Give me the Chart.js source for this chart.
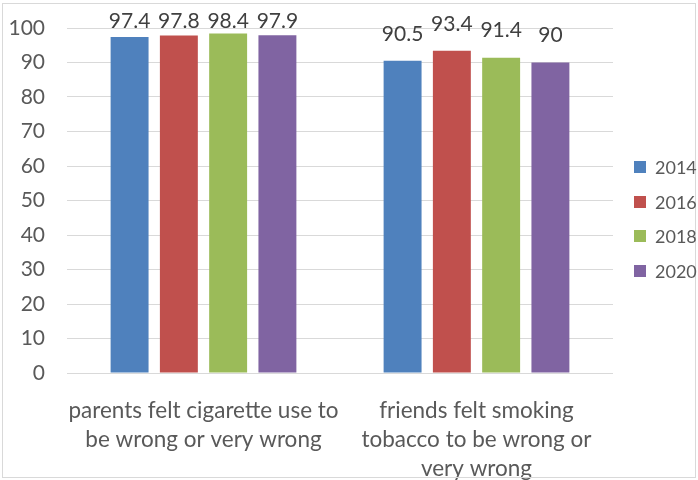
<!DOCTYPE html>
<html>
<head>
<meta charset="utf-8">
<script src="https://cdn.jsdelivr.net/npm/chart.js@4.4.1/dist/chart.umd.min.js"></script>
<style>
  html, body { margin: 0; padding: 0; background: #fff; }
  #wrap { position: relative; width: 698px; height: 480px; }
</style>
</head>
<body>
<div id="wrap"><canvas id="c" width="698" height="480"></canvas></div>
<script>
// 数据：两组问题 × 四个年份
var categories = [
  ["parents felt cigarette use to", "be wrong or very wrong"],
  ["friends felt smoking", "tobacco to be wrong or", "very wrong"]
];
var years = ["2014", "2016", "2018", "2020"];
var values2014 = [97.4, 90.5];
var values2016 = [97.8, 93.4];
var values2018 = [98.4, 91.4];
var values2020 = [97.9, 90];
var yTicks = [0, 10, 20, 30, 40, 50, 60, 70, 80, 90, 100];

var COLORS = ["#4F81BD", "#C0504D", "#9BBB59", "#8064A2"];
var TEXT = "#595959";
var GRID = "#D9D9D9";
var FONT = "Lato, 'Open Sans', sans-serif";

var series = [values2014, values2016, values2018, values2020];
var datasets = series.map(function (vals, i) {
  return {
    label: years[i],
    data: vals,
    backgroundColor: COLORS[i],
    borderWidth: 0,
    categoryPercentage: 0.722,
    barPercentage: 0.77
  };
});

// 柱顶数值标签（顶部被夹住，模仿 Excel 的 outside end）
var valueLabels = {
  id: "valueLabels",
  afterDatasetsDraw: function (chart) {
    var ctx = chart.ctx;
    ctx.save();
    ctx.font = "21px " + FONT;
    ctx.fillStyle = "#404040";
    ctx.textAlign = "center";
    ctx.textBaseline = "middle";
    chart.data.datasets.forEach(function (ds, i) {
      chart.getDatasetMeta(i).data.forEach(function (bar, j) {
        var y = Math.max(bar.y - 27, 21);
        ctx.fillText(String(ds.data[j]), bar.x, y);
      });
    });
    ctx.restore();
  }
};

// 右侧图例 + 外框
var sideLegend = {
  id: "sideLegend",
  afterDraw: function (chart) {
    var ctx = chart.ctx;
    ctx.save();
    ctx.strokeStyle = GRID;
    ctx.lineWidth = 1;
    ctx.strokeRect(2.5, 3.5, 693, 474);
    ctx.font = "18px " + FONT;
    ctx.textBaseline = "middle";
    ctx.textAlign = "left";
    chart.data.datasets.forEach(function (ds, i) {
      var cy = 167 + i * 34.7;
      ctx.fillStyle = ds.backgroundColor;
      ctx.fillRect(634, Math.round(cy - 6), 12, 12);
      ctx.fillStyle = TEXT;
      ctx.fillText(ds.label, 655, cy + 1);
    });
    ctx.restore();
  }
};

// 固定绘图区：轴自身的半标签内边距清零
function noPad(s) {
  s.paddingTop = 0; s.paddingBottom = 0; s.paddingLeft = 0; s.paddingRight = 0;
}

new Chart(document.getElementById("c"), {
  type: "bar",
  data: { labels: categories, datasets: datasets },
  options: {
    responsive: false,
    animation: false,
    layout: { padding: { top: 28, right: 85, bottom: 0, left: 0 } },
    plugins: { legend: { display: false }, tooltip: { enabled: false } },
    scales: {
      x: {
        grid: { display: false },
        border: { display: false },
        ticks: {
          color: TEXT,
          font: { family: FONT, size: 22.5, lineHeight: 29 / 22.5 },
          padding: 15,
          maxRotation: 0,
          autoSkip: false
        },
        afterFit: function (s) { s.height = 107; noPad(s); }
      },
      y: {
        min: 0,
        max: 100,
        afterBuildTicks: function (s) {
          s.ticks = yTicks.map(function (v) { return { value: v }; });
        },
        grid: { color: GRID, lineWidth: 1, drawTicks: false },
        border: { display: false },
        ticks: {
          color: TEXT,
          font: { family: FONT, size: 21 },
          padding: 22
        },
        afterFit: function (s) { s.width = 67; noPad(s); }
      }
    }
  },
  plugins: [valueLabels, sideLegend]
});
</script>
</body>
</html>
